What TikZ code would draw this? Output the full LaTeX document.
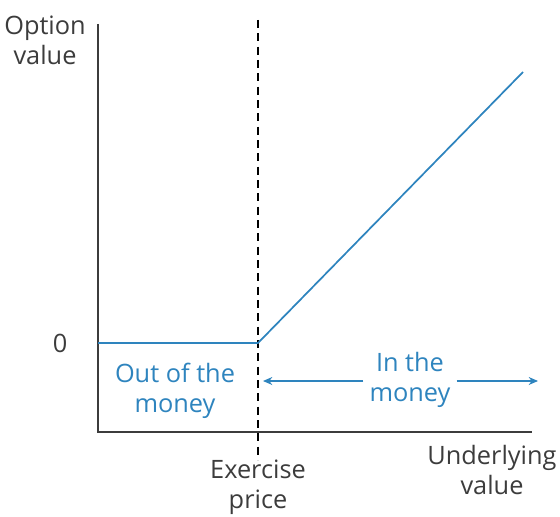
\documentclass[tikz,border=0pt]{standalone}
\usepackage{fontspec}
\setmainfont{Open Sans}
\usepackage{xcolor}
\usetikzlibrary{arrows.meta}
\definecolor{payblue}{RGB}{46,132,190}
\definecolor{labgray}{RGB}{60,60,60}
\tikzset{
  lab/.style={align=center,text=labgray,font=\fontsize{19}{22.5}\selectfont,inner sep=0pt},
  bluelab/.style={lab,text=payblue},
  ax/.style={line width=1.1pt,labgray},
  pay/.style={line width=1.3pt,payblue},
  span/.style={line width=1pt,payblue,-{Stealth[length=7pt,width=6pt]}}
}
\begin{document}
\begin{tikzpicture}[x=0.75pt,y=-0.75pt]
\useasboundingbox (0,0) rectangle (560,517);

\coordinate (ytop) at (98,24);
\coordinate (orig) at (98,432);
\coordinate (xend) at (532,432);
\coordinate (strike) at (258,343);
\coordinate (zero) at (98,343);
\coordinate (payend) at (523,72);

\draw[ax] (ytop) -- (orig) -- (xend);
\draw[line width=1pt,dashed,dash pattern=on 6pt off 4pt] (258,20) -- (258,460);
\draw[pay] (zero) -- (strike) -- (payend);

\node[lab] (yname) at (45,40) {Option\\value};
\node[lab] (zerolab) at (60,343) {0};
\node[lab] (xname) at (492,470) {Underlying\\value};
\node[lab] (strikelab) at (258,487) {Exercise\\price};
\node[bluelab] (outlab) at (175,391) {Out of the\\money};
\node[bluelab] (inlab) at (410,380) {In the\\money};

\draw[span] (inlab.west |- 0,381) ++(-6,0) coordinate (inl) -- (263,381);
\draw[span] (inlab.east |- 0,381) ++(6,0) coordinate (inr) -- (538,381);

\end{tikzpicture}
\end{document}
